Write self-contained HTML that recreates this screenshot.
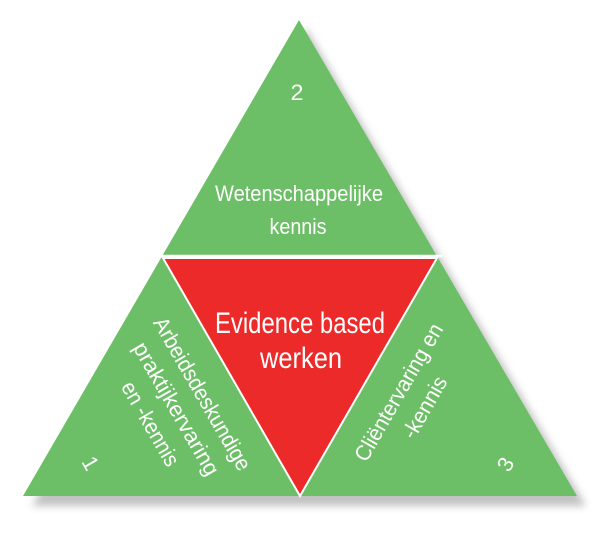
<!DOCTYPE html>
<html><head><meta charset="utf-8"><style>
body{margin:0;background:#fff;width:601px;height:543px;overflow:hidden}
svg text{font-family:"Liberation Sans Narrow","Liberation Sans",sans-serif;fill:#fff}
</style></head><body>
<svg width="601" height="543" viewBox="0 0 601 543">
<defs><filter id="s" x="-10%" y="-10%" width="130%" height="130%"><feGaussianBlur stdDeviation="4"/></filter></defs>
<polygon points="306,28 586,506 32,506" fill="#9a9a9a" opacity="0.6" filter="url(#s)"/>
<polygon points="299,20 577,496 23,496" fill="#6dbf67"/>
<line x1="155" y1="256" x2="443" y2="256" stroke="#fff" stroke-width="2.5"/>
<polygon points="163,258 437,258 300,496" fill="#ec2a2a" stroke="#fff" stroke-width="2"/>
<text x="297" y="100" font-size="22" text-anchor="middle" textLength="13" lengthAdjust="spacingAndGlyphs">2</text>
<text x="299" y="201" font-size="22" text-anchor="middle" textLength="168" lengthAdjust="spacingAndGlyphs">Wetenschappelijke</text>
<text x="298" y="234" font-size="22" text-anchor="middle" textLength="57" lengthAdjust="spacingAndGlyphs">kennis</text>
<text x="300" y="333" font-size="30" text-anchor="middle" textLength="170" lengthAdjust="spacingAndGlyphs">Evidence based</text>
<text x="301" y="368" font-size="30" text-anchor="middle" textLength="82" lengthAdjust="spacingAndGlyphs">werken</text>
<g transform="translate(176,409) rotate(60)" font-size="22">
<text x="0" y="-23" text-anchor="middle" textLength="173" lengthAdjust="spacingAndGlyphs">Arbeidsdeskundige</text>
<text x="0" y="7" text-anchor="middle" textLength="150" lengthAdjust="spacingAndGlyphs">praktijkervaring</text>
<text x="0" y="37" text-anchor="middle" textLength="94" lengthAdjust="spacingAndGlyphs">en -kennis</text>
</g>
<g transform="translate(412,400) rotate(-60)" font-size="22">
<text x="0" y="-8" text-anchor="middle" textLength="155" lengthAdjust="spacingAndGlyphs">Cliëntervaring en</text>
<text x="0" y="22" text-anchor="middle" textLength="68" lengthAdjust="spacingAndGlyphs">-kennis</text>
</g>
<text transform="translate(84,467) rotate(60)" font-size="22" text-anchor="middle" textLength="12" lengthAdjust="spacingAndGlyphs">1</text>
<text transform="translate(512,468) rotate(-60)" font-size="22" text-anchor="middle" textLength="12" lengthAdjust="spacingAndGlyphs">3</text>
</svg>
</body></html>
